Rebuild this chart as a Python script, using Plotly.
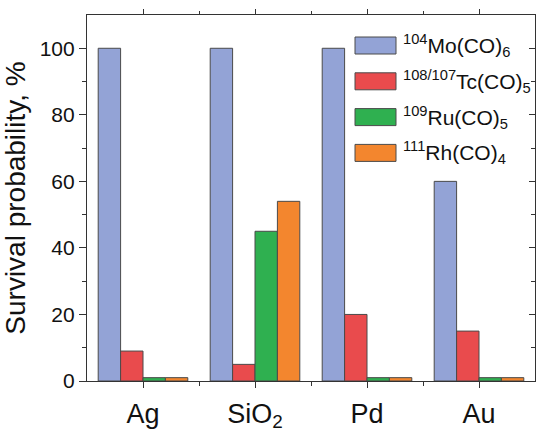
import plotly.graph_objects as go

categories = ["Ag", "SiO<sub>2</sub>", "Pd", "Au"]
series_names = ["<sup>104</sup>Mo(CO)<sub>6</sub>", "<sup>108/107</sup>Tc(CO)<sub>5</sub>",
                "<sup>109</sup>Ru(CO)<sub>5</sub>", "<sup>111</sup>Rh(CO)<sub>4</sub>"]
mo = [100, 100, 100, 60]
tc = [9, 5, 20, 15]
ru = [1, 45, 1, 1]
rh = [1, 54, 1, 1]
colors = ["#93a3d6", "#e94b4d", "#2fb050", "#f3862e"]
y_ticks = [0, 20, 40, 60, 80, 100]
y_minor = [10, 30, 50, 70, 90]

xpos = list(range(len(categories)))
font = "Liberation Sans, Arial, sans-serif"
edge = "#4a4a4a"

fig = go.Figure()
for name, vals, col in zip(series_names, [mo, tc, ru, rh], colors):
    fig.add_trace(go.Bar(x=xpos, y=vals, name=name, showlegend=False,
                         marker=dict(color=col, line=dict(color=edge, width=1))))
fig.add_trace(go.Scatter(x=xpos, y=[None] * len(xpos), yaxis="y2", xaxis="x2",
                         showlegend=False, hoverinfo="skip"))

# legend drawn as swatches + labels in paper coordinates
W, H = 537, 431
L, R, T, B = 87, 535, 15, 381
def px(x):
    return (x - L) / (R - L)
def py(y):
    return (B - y) / (B - T)

shapes = []
annotations = []
for i, (name, col) in enumerate(zip(series_names, colors)):
    cy = 45.5 + 35.8 * i
    shapes.append(dict(type="rect", xref="paper", yref="paper",
                       x0=px(355), x1=px(396), y0=py(cy + 8.5), y1=py(cy - 8.5),
                       fillcolor=col, line=dict(color=edge, width=1)))
    annotations.append(dict(xref="paper", yref="paper", x=px(401), y=py(cy),
                            xanchor="left", yanchor="middle", showarrow=False,
                            text=name, font=dict(size=21, family=font, color="#111111")))

fig.update_layout(
    width=W, height=H,
    margin=dict(l=L, r=W - R, t=T, b=H - B),
    plot_bgcolor="white", paper_bgcolor="white",
    barmode="group", bargap=0.2, bargroupgap=0,
    font=dict(family=font, color="#111111"),
    shapes=shapes, annotations=annotations,
    xaxis=dict(range=[-0.5, 3.5], tickvals=xpos, ticktext=categories,
               showline=True, linecolor="#333", linewidth=1.2,
               ticks="outside", ticklen=6, tickcolor="#333", automargin=False,
               tickfont=dict(size=27), ticklabelstandoff=2,
               minor=dict(ticks="outside", ticklen=4, tickcolor="#333",
                          tickvals=[x + 0.5 for x in xpos[:-1]]),
               showgrid=False, zeroline=False),
    xaxis2=dict(range=[-0.5, 3.5], overlaying="x", side="top", showline=True, linecolor="#333",
                linewidth=1.2, ticks="outside", ticklen=5, tickcolor="#333", tickvals=xpos,
                showticklabels=False, automargin=False,
                minor=dict(ticks="outside", ticklen=3, tickcolor="#333",
                           tickvals=[x + 0.5 for x in xpos[:-1]]),
                showgrid=False, zeroline=False),
    yaxis=dict(range=[0, 110], showline=True, linecolor="#333", linewidth=1.2,
               ticks="outside", ticklen=7, tickcolor="#333", tickvals=y_ticks,
               tickfont=dict(size=21), showgrid=False, zeroline=False, automargin=False,
               minor=dict(ticks="outside", ticklen=4, tickcolor="#333", tickvals=y_minor),
               title=dict(text="Survival probability, %", font=dict(size=28), standoff=8)),
    yaxis2=dict(range=[0, 110], overlaying="y", side="right", showline=True, linecolor="#333",
                linewidth=1.2, ticks="inside", ticklen=6, tickcolor="#333",
                tickvals=y_ticks, showticklabels=False, showgrid=False, automargin=False,
                zeroline=False,
                minor=dict(ticks="inside", ticklen=4, tickcolor="#333", tickvals=y_minor)),
)
fig.write_html("out.html", config={"displayModeBar": False},
               post_script="document.body.style.margin='0';document.body.style.overflow='hidden';")
